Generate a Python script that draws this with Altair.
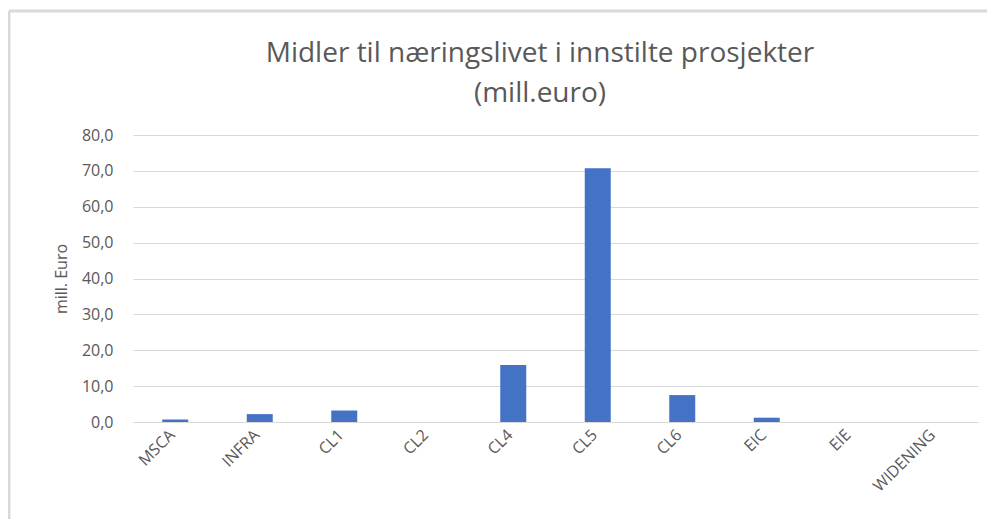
import altair as alt
import pandas as pd

categories = ["MSCA", "INFRA", "CL1", "CL2", "CL4", "CL5", "CL6", "EIC", "EIE", "WIDENING"]
values = [0.7, 2.2, 3.2, 0.0, 15.9, 70.7, 7.5, 1.2, 0.0, 0.0]
y_ticks = [0, 10, 20, 30, 40, 50, 60, 70, 80]
title_lines = ["Midler til næringslivet i innstilte prosjekter", "(mill.euro)"]

df = pd.DataFrame({"program": categories, "value": values})
one = pd.DataFrame({"k": [0]})

W, H = 845, 287
GREY = "#595959"

bars = alt.Chart(df).mark_bar(color="#4472C4", size=26).encode(
    x=alt.X("program:N", sort=categories, title=None,
            scale=alt.Scale(paddingInner=0, paddingOuter=0),
            axis=alt.Axis(labelAngle=-45, labelFontSize=16, labelColor=GREY,
                          labelFont="Open Sans", ticks=False, domain=True,
                          domainColor="#D9D9D9", labelPadding=10, labelOffset=-3,
                          labelAlign="right", labelBaseline="middle")),
    y=alt.Y("value:Q", title="mill. Euro",
            scale=alt.Scale(domain=[0, 80], nice=False),
            axis=alt.Axis(values=y_ticks, labelExpr="replace(format(datum.value, '.1f'), '.', ',')",
                          labelFontSize=16, labelColor=GREY, labelFont="Open Sans",
                          ticks=False, domain=False, gridColor="#D9D9D9",
                          titleFontSize=16, titleColor=GREY, titleFont="Open Sans",
                          titleFontWeight="normal", labelPadding=20, titlePadding=12)),
)

title1 = alt.Chart(one).mark_text(font="Open Sans", fontSize=28, color=GREY,
                                  align="center", baseline="alphabetic",
                                  text=title_lines[0]).encode(
    x=alt.value(407), y=alt.value(-73))
title2 = alt.Chart(one).mark_text(font="Open Sans", fontSize=28, color=GREY,
                                  align="center", baseline="alphabetic",
                                  text=title_lines[1]).encode(
    x=alt.value(407), y=alt.value(-33))

border_top = alt.Chart(one).mark_rule(color="#D9D9D9", strokeWidth=3).encode(
    x=alt.value(-124), x2=alt.value(870), y=alt.value(-124)
)
border_left = alt.Chart(one).mark_rule(color="#D9D9D9", strokeWidth=3).encode(
    x=alt.value(-124), y=alt.value(-124), y2=alt.value(400)
)

chart = alt.layer(border_top, border_left, bars, title1, title2).properties(
    width=W, height=H,
    autosize=alt.AutoSizeParams(type="none"),
    padding={"left": 125, "top": 127, "right": 9, "bottom": 97},
).configure_view(stroke=None)

chart.save("out.html", embed_options={"renderer": "svg", "actions": False})
